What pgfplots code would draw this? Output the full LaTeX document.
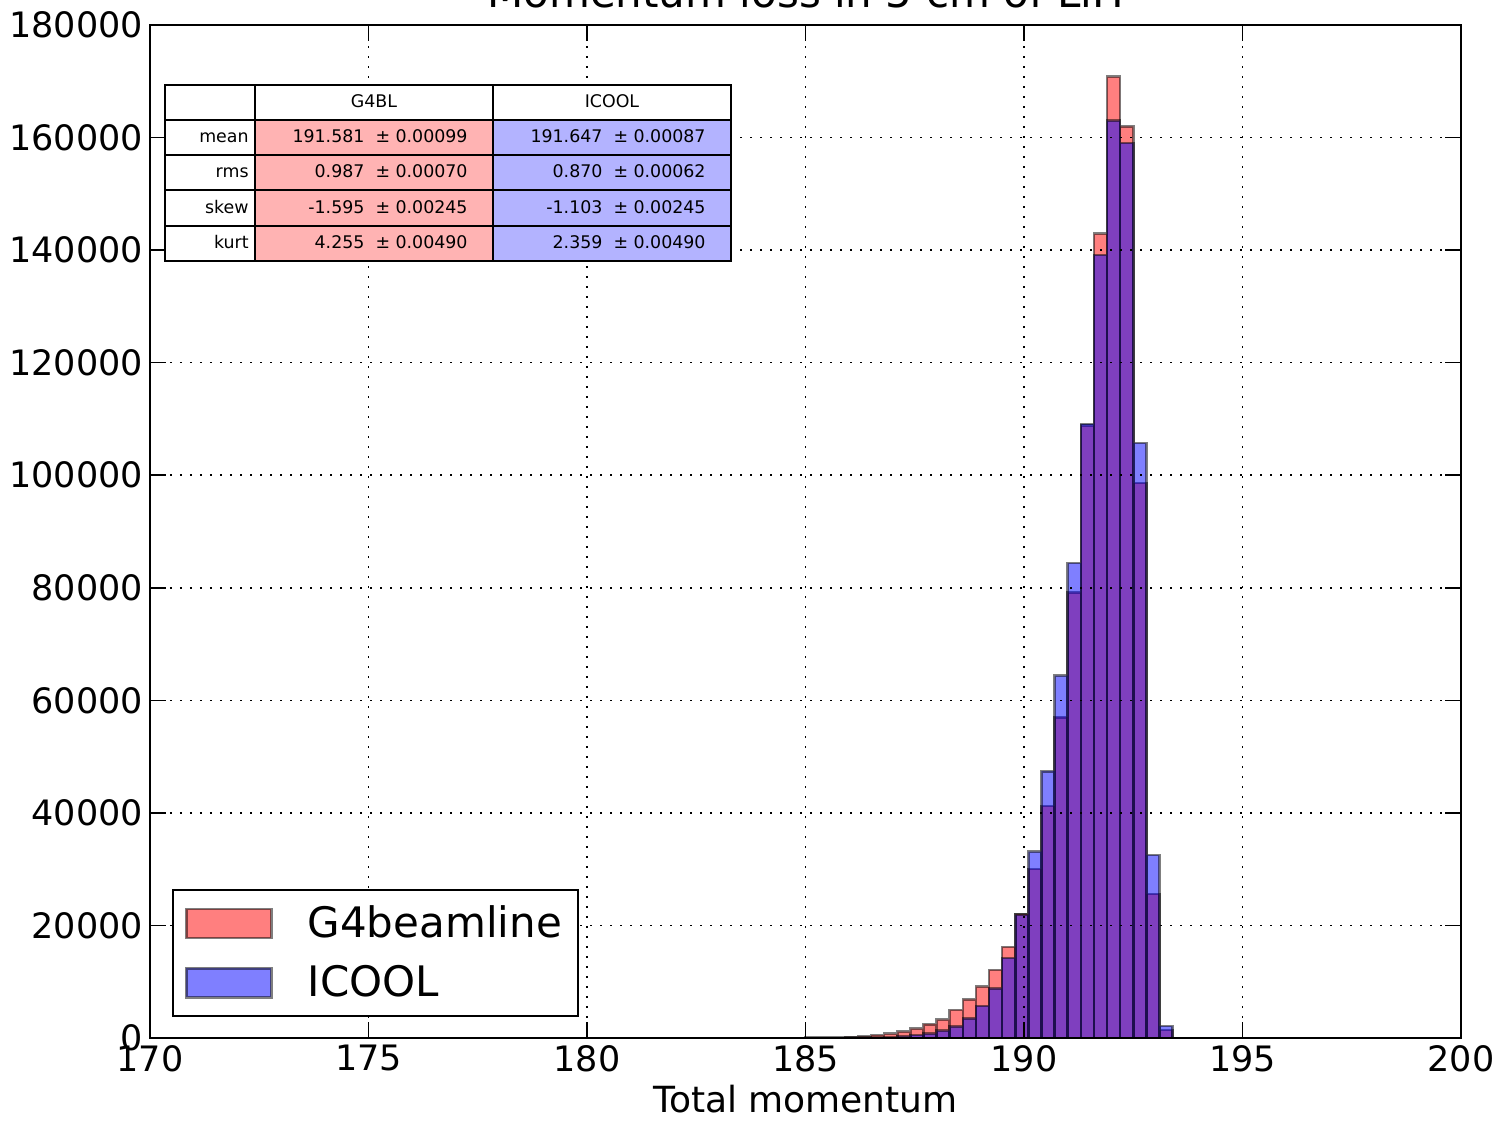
\documentclass[border=0pt]{standalone}
\usepackage{fontspec}
\setmainfont{DejaVu Sans}
\usepackage{pgfplots}
\pgfplotsset{compat=1.18}
\definecolor{cellred}{RGB}{255,179,179}
\definecolor{cellblue}{RGB}{179,179,255}
\begin{document}
\begin{tikzpicture}
\begin{axis}[
  at={(0,0)}, anchor=south west,
  width=655.5pt, height=506.5pt, scale only axis,
  xmin=170, xmax=200, ymin=0, ymax=180000,
  xtick={170,175,...,200},
  ytick={0,20000,...,180000},
  scaled y ticks=false,
  axis on top,
  grid=major,
  major grid style={black, line width=0.8pt, dash pattern=on 1pt off 4pt},
  axis line style={line width=1.2pt},
  tick align=inside,
  major tick length=8pt,
  tick style={black, line width=0.8pt},
  ticklabel style={font=\fontsize{17.5}{20}\selectfont},
  yticklabel style={/pgf/number format/.cd, fixed, 1000 sep={}, assume math mode=true},
  xticklabel style={/pgf/number format/.cd, fixed, 1000 sep={}, assume math mode=true},
  xlabel={Total momentum},
  xlabel style={font=\fontsize{18}{20}\selectfont, yshift=0pt},
  legend style={at={(0.0168,0.0207)}, anchor=south west, draw=black, line width=1.1pt,
    font=\fontsize{21}{25}\selectfont, inner xsep=6pt, inner ysep=6pt, row sep=8.5pt,
    cells={anchor=west}},
  legend image code/.code={\draw[#1, line width=1.3pt] (0pt,-7.25pt) rectangle (42.5pt,7.25pt);
    \path (58pt,0pt);},
]
\addplot[ybar interval, fill=red, fill opacity=0.5, draw=black, draw opacity=0.5, line width=1.3pt]
coordinates {
(185.0,50) (185.3,80) (185.6,120) (185.9,200) (186.2,300) (186.5,500) (186.8,750)
(187.1,1150) (187.4,1650) (187.7,2450) (188.0,3250) (188.3,5000) (188.6,6850)
(188.9,9150) (189.2,12100) (189.5,16200) (189.8,22000) (190.1,30000) (190.4,41200)
(190.7,57000) (191.0,79200) (191.3,108800) (191.6,142900) (191.9,170800)
(192.2,162000) (192.5,98600) (192.8,25600) (193.1,1400) (193.4,1400)
};
\addlegendentry{G4beamline}
\addplot[ybar interval, fill=blue, fill opacity=0.5, draw=black, draw opacity=0.5, line width=1.3pt]
coordinates {
(185.0,10) (185.3,15) (185.6,20) (185.9,40) (186.2,60) (186.5,100) (186.8,170)
(187.1,300) (187.4,500) (187.7,800) (188.0,1300) (188.3,2050) (188.6,3500)
(188.9,5700) (189.2,8800) (189.5,14200) (189.8,21900) (190.1,33100) (190.4,47400)
(190.7,64400) (191.0,84400) (191.3,109100) (191.6,139100) (191.9,163000)
(192.2,159000) (192.5,105700) (192.8,32500) (193.1,2100) (193.4,2100)
};
\addlegendentry{ICOOL}
\end{axis}
% title
\node[anchor=base, font=\fontsize{21}{25}\selectfont] at (327.75pt,515pt) {Momentum loss in 5 cm of LiH};
% statistics table
\fill[white] (7.5pt,388.5pt) rectangle (52.5pt,476.5pt);
\fill[white] (52.5pt,459pt) rectangle (290.5pt,476.5pt);
\fill[cellred] (52.5pt,388.5pt) rectangle (171.5pt,459pt);
\fill[cellblue] (171.5pt,388.5pt) rectangle (290.5pt,459pt);
\begin{scope}[line width=1.1pt]
\draw (7.5pt,388.5pt) rectangle (290.5pt,476.5pt);
\foreach \y in {459,441.5,424,406} {\draw (7.5pt,\y pt) -- (290.5pt,\y pt);}
\foreach \x in {52.5,171.5} {\draw (\x pt,388.5pt) -- (\x pt,476.5pt);}
\end{scope}
\begin{scope}[font=\fontsize{8.7}{10}\selectfont, inner sep=0pt]
\node[anchor=mid] at (112pt,467.75pt) {G4BL};
\node[anchor=mid] at (231pt,467.75pt) {ICOOL};
\node[anchor=mid east] at (49.5pt,450.25pt) {mean};
\node[anchor=mid east] at (49.5pt,432.75pt) {rms};
\node[anchor=mid east] at (49.5pt,415pt) {skew};
\node[anchor=mid east] at (49.5pt,397.25pt) {kurt};
\node[anchor=mid east] at (159pt,450.25pt) {191.581 ~±~0.00099};
\node[anchor=mid east] at (159pt,432.75pt) {0.987 ~±~0.00070};
\node[anchor=mid east] at (159pt,415pt) {-1.595 ~±~0.00245};
\node[anchor=mid east] at (159pt,397.25pt) {4.255 ~±~0.00490};
\node[anchor=mid east] at (278pt,450.25pt) {191.647 ~±~0.00087};
\node[anchor=mid east] at (278pt,432.75pt) {0.870 ~±~0.00062};
\node[anchor=mid east] at (278pt,415pt) {-1.103 ~±~0.00245};
\node[anchor=mid east] at (278pt,397.25pt) {2.359 ~±~0.00490};
\end{scope}
\pgfresetboundingbox
\useasboundingbox (-75pt,-41.5pt) rectangle (674pt,519pt);
\end{tikzpicture}
\end{document}
